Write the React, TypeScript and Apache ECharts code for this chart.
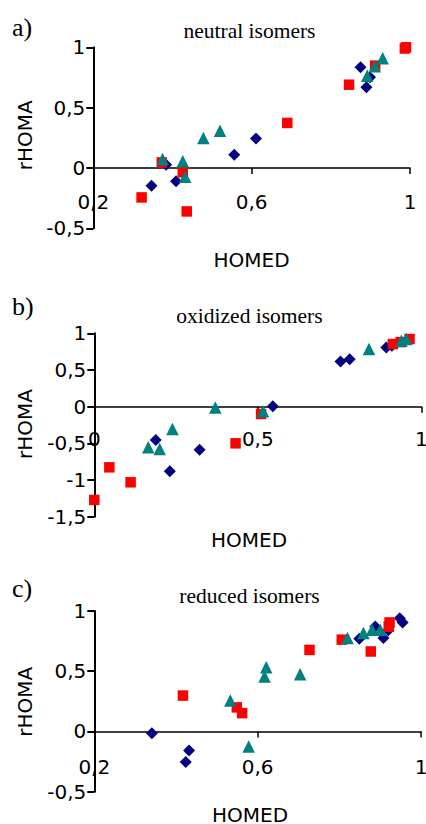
import React, { useEffect, useRef } from "react";
import * as echarts from "echarts";

// Panel a) neutral isomers
const aDiamX = [0.347, 0.384, 0.409, 0.556, 0.611, 0.875, 0.899, 0.89];
const aDiamY = [-0.147, 0.027, -0.111, 0.11, 0.245, 0.834, 0.751, 0.668];
const aSqX = [0.322, 0.373, 0.426, 0.436, 0.69, 0.846, 0.912, 0.987, 0.99];
const aSqY = [-0.244, 0.046, -0.036, -0.36, 0.373, 0.69, 0.848, 0.99, 1.0];
const aTriX = [0.375, 0.426, 0.432, 0.478, 0.52, 0.892, 0.911, 0.931];
const aTriY = [0.075, 0.055, -0.072, 0.249, 0.309, 0.765, 0.842, 0.909];

// Panel b) oxidized isomers
const bDiamX = [0.188, 0.231, 0.322, 0.546, 0.753, 0.781, 0.893, 0.91];
const bDiamY = [-0.454, -0.881, -0.586, 0.005, 0.614, 0.645, 0.808, 0.83];
const bSqX = [0.0, 0.046, 0.111, 0.432, 0.51, 0.913, 0.937, 0.964];
const bSqY = [-1.271, -0.827, -1.031, -0.5, -0.1, 0.854, 0.88, 0.922];
const bTriX = [0.165, 0.2, 0.239, 0.37, 0.516, 0.84, 0.939, 0.954];
const bTriY = [-0.554, -0.577, -0.304, -0.01, -0.064, 0.786, 0.899, 0.922];

// Panel c) reduced isomers
const cDiamX = [0.341, 0.424, 0.432, 0.849, 0.888, 0.908, 0.92, 0.948, 0.955];
const cDiamY = [-0.014, -0.254, -0.157, 0.77, 0.872, 0.776, 0.84, 0.94, 0.905];
const cSqX = [0.417, 0.549, 0.562, 0.727, 0.806, 0.877, 0.923, 0.921];
const cSqY = [0.298, 0.2, 0.152, 0.677, 0.762, 0.664, 0.905, 0.87];
const cTriX = [0.533, 0.578, 0.617, 0.621, 0.704, 0.82, 0.859, 0.88, 0.9];
const cTriY = [0.257, -0.124, 0.456, 0.533, 0.475, 0.776, 0.817, 0.845, 0.845];

const titles = ["neutral isomers", "oxidized isomers", "reduced isomers"];
const letters = ["a)", "b)", "c)"];
const xTicksAC = [0.2, 0.6, 1.0];
const xName = "HOMED";
const yName = "rHOMA";

const zip = (xs: number[], ys: number[]) => xs.map((x, i) => [x, ys[i]]);
const fmt = (v: number) => String(Math.round(v * 10) / 10).replace(".", ",");

const LABEL_FONT = "DejaVu Sans";

export default function App() {
  const ref = useRef<HTMLDivElement>(null);
  useEffect(() => {
    if (!ref.current) return;
    const chart = echarts.init(ref.current, null, { renderer: "svg" });

    const grids = [
      { left: 93.3, top: 47.3, width: 316.7, height: 181 },
      { left: 94.3, top: 333.3, width: 327, height: 183.4 },
      { left: 94.3, top: 611, width: 326.7, height: 180.7 },
    ];
    const xLabelMargin = [-36.3, -87.7, -35];
    const xMins = [0.2, 0, 0.2];
    const yMins = [-0.5, -1.5, -0.5];

    const xAxes = grids.map((_, i) => {
      const isB = i === 1;
      const ax: any = {
        type: "value",
        gridIndex: i,
        min: xMins[i],
        max: 1,
        interval: isB ? 0.5 : 0.2,
        splitLine: { show: false },
        axisLine: { show: true, onZero: true, lineStyle: { color: "#000", width: 1.5 } },
        axisTick: { show: true, inside: false, length: 6, lineStyle: { color: "#000", width: 1.5 } },
        axisLabel: {
          show: true,
          margin: xLabelMargin[i],
          color: "#000",
          fontFamily: LABEL_FONT,
          fontSize: 20,
          formatter: (v: number) => fmt(v),
          showMinLabel: true,
          showMaxLabel: true,
        },
      };
      if (!isB) {
        ax.axisLabel.customValues = xTicksAC;
        ax.axisTick.customValues = xTicksAC;
      }
      return ax;
    });

    const yAxes = grids.map((_, i) => ({
      type: "value",
      gridIndex: i,
      min: yMins[i],
      max: 1,
      interval: 0.5,
      splitLine: { show: false },
      axisLine: { show: true, onZero: false, lineStyle: { color: "#000", width: 2 } },
      axisTick: { show: true, inside: false, length: 7, lineStyle: { color: "#000", width: 2 } },
      axisLabel: {
        margin: 8,
        color: "#000",
        fontFamily: LABEL_FONT,
        fontSize: 20,
        formatter: (v: number) => fmt(v),
      },
    }));

    const sets = [
      [aDiamX, aDiamY, aSqX, aSqY, aTriX, aTriY],
      [bDiamX, bDiamY, bSqX, bSqY, bTriX, bTriY],
      [cDiamX, cDiamY, cSqX, cSqY, cTriX, cTriY],
    ];
    const series: any[] = [];
    sets.forEach((s, i) => {
      series.push({
        type: "scatter", xAxisIndex: i, yAxisIndex: i, z: 2,
        symbol: "diamond", symbolSize: 12,
        itemStyle: { color: "#000080", opacity: 1 }, data: zip(s[0], s[1]),
      });
      series.push({
        type: "scatter", xAxisIndex: i, yAxisIndex: i, z: 3,
        symbol: "rect", symbolSize: 10.5,
        itemStyle: { color: "#FF0000", opacity: 1 }, data: zip(s[2], s[3]),
      });
      series.push({
        type: "scatter", xAxisIndex: i, yAxisIndex: i, z: 4,
        symbol: "triangle", symbolSize: 12.5,
        itemStyle: { color: "#008080", opacity: 1 }, data: zip(s[4], s[5]),
      });
    });

    const titleY = [30.7, 316.3, 595.7];
    const letterY = [27.2, 306.5, 588];
    const xNamePos = [[251.5, 260], [249, 539.5], [250, 815]];
    const yNameY = [135.3, 424, 701.7];
    const graphic: any[] = [];
    for (let i = 0; i < 3; i++) {
      graphic.push({
        type: "text", x: 249.5, y: titleY[i], silent: true,
        style: { text: titles[i], font: '21.5px "Liberation Serif"', fill: "#000", align: "center", verticalAlign: "middle" },
      });
      graphic.push({
        type: "text", x: 12, y: letterY[i], silent: true,
        style: { text: letters[i], font: '26px "Liberation Serif"', fill: "#000", align: "left", verticalAlign: "middle" },
      });
      graphic.push({
        type: "text", x: xNamePos[i][0], y: xNamePos[i][1], silent: true,
        style: { text: xName, font: `20px "${LABEL_FONT}"`, fill: "#000", align: "center", verticalAlign: "middle" },
      });
      graphic.push({
        type: "text", x: 25, y: yNameY[i], rotation: Math.PI / 2, silent: true,
        style: { text: yName, font: `20px "${LABEL_FONT}"`, fill: "#000", align: "center", verticalAlign: "middle" },
      });
    }

    chart.setOption({
      animation: false,
      backgroundColor: "#fff",
      grid: grids.map((g) => ({ ...g, containLabel: false, outerBoundsMode: "none" })),
      xAxis: xAxes,
      yAxis: yAxes,
      series,
      graphic,
    });
    return () => chart.dispose();
  }, []);
  return (
    <div
      ref={ref}
      style={{ position: "absolute", left: 0, top: 0, width: 426, height: 824 }}
    />
  );
}
